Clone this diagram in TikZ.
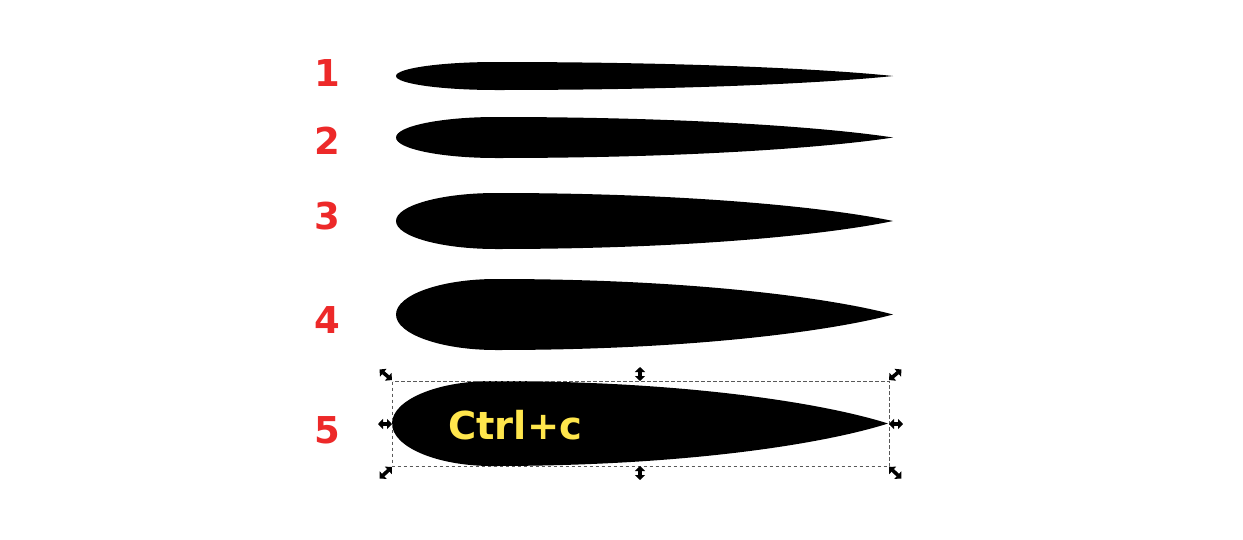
\documentclass[tikz,border=0pt]{standalone}
\usepackage{fontspec}
\setsansfont{DejaVu Sans}
\usetikzlibrary{arrows.meta}
\definecolor{numred}{RGB}{237,41,41}
\definecolor{keyyellow}{RGB}{255,230,76}
\newcommand\foilshape[4]{%
  \fill[black] (#2,#3) .. controls ({#2-60},{#3-0.45*#4}) and ({#1+300},{#3-#4}) .. ({#1+100},{#3-#4})
   .. controls ({#1+45},{#3-#4}) and (#1,{#3-0.552*#4}) .. (#1,#3)
   .. controls (#1,{#3+0.552*#4}) and ({#1+45},{#3+#4}) .. ({#1+100},{#3+#4})
   .. controls ({#1+300},{#3+#4}) and ({#2-60},{#3+0.45*#4}) .. cycle;}
\begin{document}
\begin{tikzpicture}[x=1pt,y=-1pt,
  num/.style={text=numred,font=\sffamily\bfseries\fontsize{37}{40}\selectfont,inner sep=0pt},
  handle/.style={line width=3.6pt,{Triangle[width=10pt,length=5pt]}-{Triangle[width=10pt,length=5pt]},black},
  selbox/.style={draw=black!65,line width=0.7pt,dash pattern=on 3.5pt off 2.5pt}]
\useasboundingbox (0,0) rectangle (1243,539);
\fill[white] (0,0) rectangle (1243,539);
% airfoils
\foilshape{396}{893}{76}{14}
\foilshape{396}{893}{137.5}{20.5}
\foilshape{396}{893}{221}{28}
\foilshape{396}{893}{314.5}{35.5}
\foilshape{392}{888}{423.5}{42.5}
% numbers
\node[num] (n1) at (327,73.5) {1};
\node[num] (n2) at (327,140.5) {2};
\node[num] (n3) at (327,216) {3};
\node[num] (n4) at (327,320) {4};
\node[num] (n5) at (327,430) {5};
% selection box
\draw[selbox] (392.5,381.5) rectangle (889.5,466.5);
\node[text=keyyellow,font=\sffamily\bfseries\fontsize{38.5}{41}\selectfont,inner sep=0pt,anchor=west] (ctrl) at (448,425) {Ctrl+c};
% handles
\draw[handle] (379.5,369.5) -- (392,380);
\draw[handle] (889,380) -- (901.5,369.5);
\draw[handle] (379.5,478.5) -- (392,467);
\draw[handle] (889,467) -- (901.5,478.5);
\draw[handle] (640,367) -- (640,381);
\draw[handle] (640,466) -- (640,480);
\draw[handle] (378,424) -- (392,424);
\draw[handle] (889,424) -- (903,424);
\end{tikzpicture}
\end{document}
